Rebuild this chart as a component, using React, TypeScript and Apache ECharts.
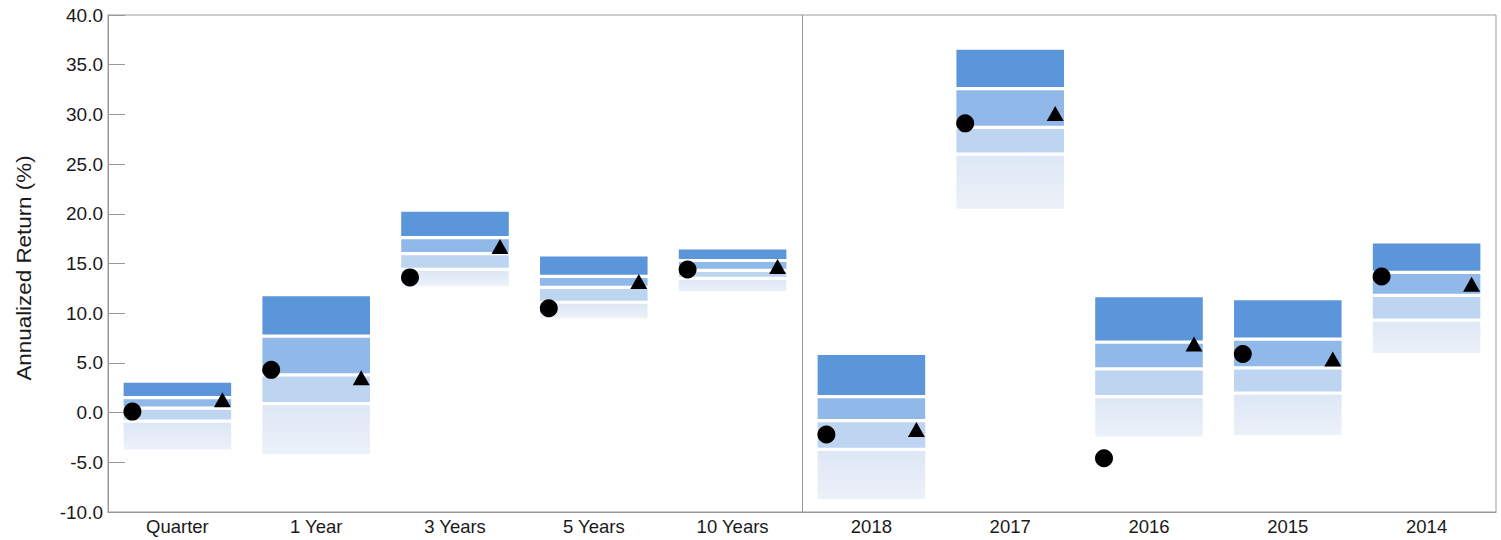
import React, { useEffect, useRef } from "react";
import * as echarts from "echarts";

const categories = ["Quarter", "1 Year", "3 Years", "5 Years", "10 Years", "2018", "2017", "2016", "2015", "2014"];
// percentile band edges (top = 5th percentile, bottom = 95th percentile)
const pct5 = [3.0, 11.7, 20.2, 15.7, 16.4, 5.8, 36.5, 11.6, 11.3, 17.0];
const pct25 = [1.5, 7.7, 17.6, 13.7, 15.3, 1.6, 32.6, 7.1, 7.4, 14.1];
const pct50 = [0.45, 3.8, 16.0, 12.6, 14.3, -0.8, 28.7, 4.4, 4.5, 11.8];
const pct75 = [-0.85, 0.9, 14.4, 11.1, 13.5, -3.7, 26.0, 1.6, 1.95, 9.3];
const pct95 = [-3.7, -4.2, 12.7, 9.5, 12.2, -8.7, 20.5, -2.4, -2.25, 6.0];
const circleValues = [0.1, 4.3, 13.6, 10.5, 14.4, -2.2, 29.1, -4.6, 5.9, 13.7];
const triangleValues = [1.3, 3.5, 16.7, 13.2, 14.7, -1.7, 30.1, 6.9, 5.4, 12.9];
const yTicks = { min: -10, max: 40, interval: 5 };
const dividerBeforeIndex = 5;
const yAxisTitle = "Annualized Return (%)";

const bandColors = ["#5b96db", "#90b8e9", "#bed5f2", "#e2eaf6"];
const FONT = "Arial, 'Liberation Sans', sans-serif";
const TEXT = "#1a1a1a";

export default function App() {
  const ref = useRef<HTMLDivElement>(null);
  useEffect(() => {
    if (!ref.current) return;
    const chart = echarts.init(ref.current, null, { renderer: "svg" });
    const bandData = categories.map((_, i) => [i, pct5[i], pct25[i], pct50[i], pct75[i], pct95[i]]);
    const option: any = {
      animation: false,
      backgroundColor: "#ffffff",
      grid: {
        left: 108,
        right: 5,
        top: 15,
        bottom: 28,
        show: true,
        borderColor: "#999999",
        borderWidth: 1,
        backgroundColor: "transparent",
      },
      graphic: [
        {
          type: "text",
          x: 24,
          y: 268,
          rotation: Math.PI / 2,
          scaleX: 1.12,
          style: {
            text: yAxisTitle,
            fontSize: 20,
            fontFamily: FONT,
            fill: TEXT,
            align: "center",
            verticalAlign: "middle",
          },
        },
      ],
      xAxis: {
        type: "category",
        data: categories,
        boundaryGap: true,
        axisLine: { show: true, onZero: false, lineStyle: { color: "#999999", width: 1 } },
        axisTick: { show: false },
        axisLabel: { color: TEXT, fontSize: 18.5, fontFamily: FONT, margin: 5, interval: 0 },
        splitLine: { show: false },
      },
      yAxis: {
        type: "value",
        min: yTicks.min,
        max: yTicks.max,
        interval: yTicks.interval,
        axisLine: { show: true, lineStyle: { color: "#999999", width: 1 } },
        axisTick: { show: true, inside: true, length: 17, lineStyle: { color: "#999999" } },
        axisLabel: {
          color: TEXT,
          fontSize: 19,
          fontFamily: FONT,
          margin: 5,
          formatter: (v: number) => v.toFixed(1),
        },
        splitLine: { show: false },
      },
      series: [
        {
          type: "custom",
          data: bandData,
          encode: { x: 0, y: [1, 2, 3, 4, 5] },
          clip: false,
          renderItem: (params: any, api: any) => {
            const idx = api.value(0);
            const vals = [api.value(1), api.value(2), api.value(3), api.value(4), api.value(5)];
            const band = api.size([1, 0])[0];
            const w = band * 0.775;
            const cx = api.coord([idx, 0])[0];
            const x0 = cx - w / 2;
            const children: any[] = [];
            for (let k = 0; k < 4; k++) {
              const yTop = api.coord([idx, vals[k]])[1];
              const yBot = api.coord([idx, vals[k + 1]])[1];
              const gapTop = k === 0 ? 0 : 1.6;
              const gapBot = k === 3 ? 0 : 1.6;
              const fill =
                k === 3
                  ? new echarts.graphic.LinearGradient(0, 0, 0, 1, [
                      { offset: 0, color: "#dde7f5" },
                      { offset: 1, color: "#ecf1f9" },
                    ])
                  : bandColors[k];
              children.push({
                type: "rect",
                shape: { x: x0, y: yTop + gapTop, width: w, height: Math.max(0, yBot - yTop - gapTop - gapBot) },
                style: { fill },
              });
            }
            if (idx === dividerBeforeIndex) {
              const cs = params.coordSys;
              const lx = Math.round(cx - band / 2) + 0.5;
              children.push({
                type: "line",
                shape: { x1: lx, y1: cs.y, x2: lx, y2: cs.y + cs.height },
                style: { stroke: "#999999", lineWidth: 1 },
              });
            }
            return { type: "group", children };
          },
          z: 1,
        },
        {
          type: "scatter",
          data: circleValues,
          symbol: "circle",
          symbolSize: 18,
          symbolOffset: [-45, 0],
          itemStyle: { color: "#000000", opacity: 1 },
          z: 3,
        },
        {
          type: "scatter",
          data: triangleValues,
          symbol: "triangle",
          symbolSize: [17, 15],
          symbolOffset: [45, 0],
          itemStyle: { color: "#000000", opacity: 1 },
          z: 3,
        },
      ],
    };
    chart.setOption(option);
    return () => chart.dispose();
  }, []);
  return (
    <div
      ref={ref}
      style={{ position: "fixed", left: 0, top: 0, width: 1501, height: 540, background: "#fff" }}
    />
  );
}
